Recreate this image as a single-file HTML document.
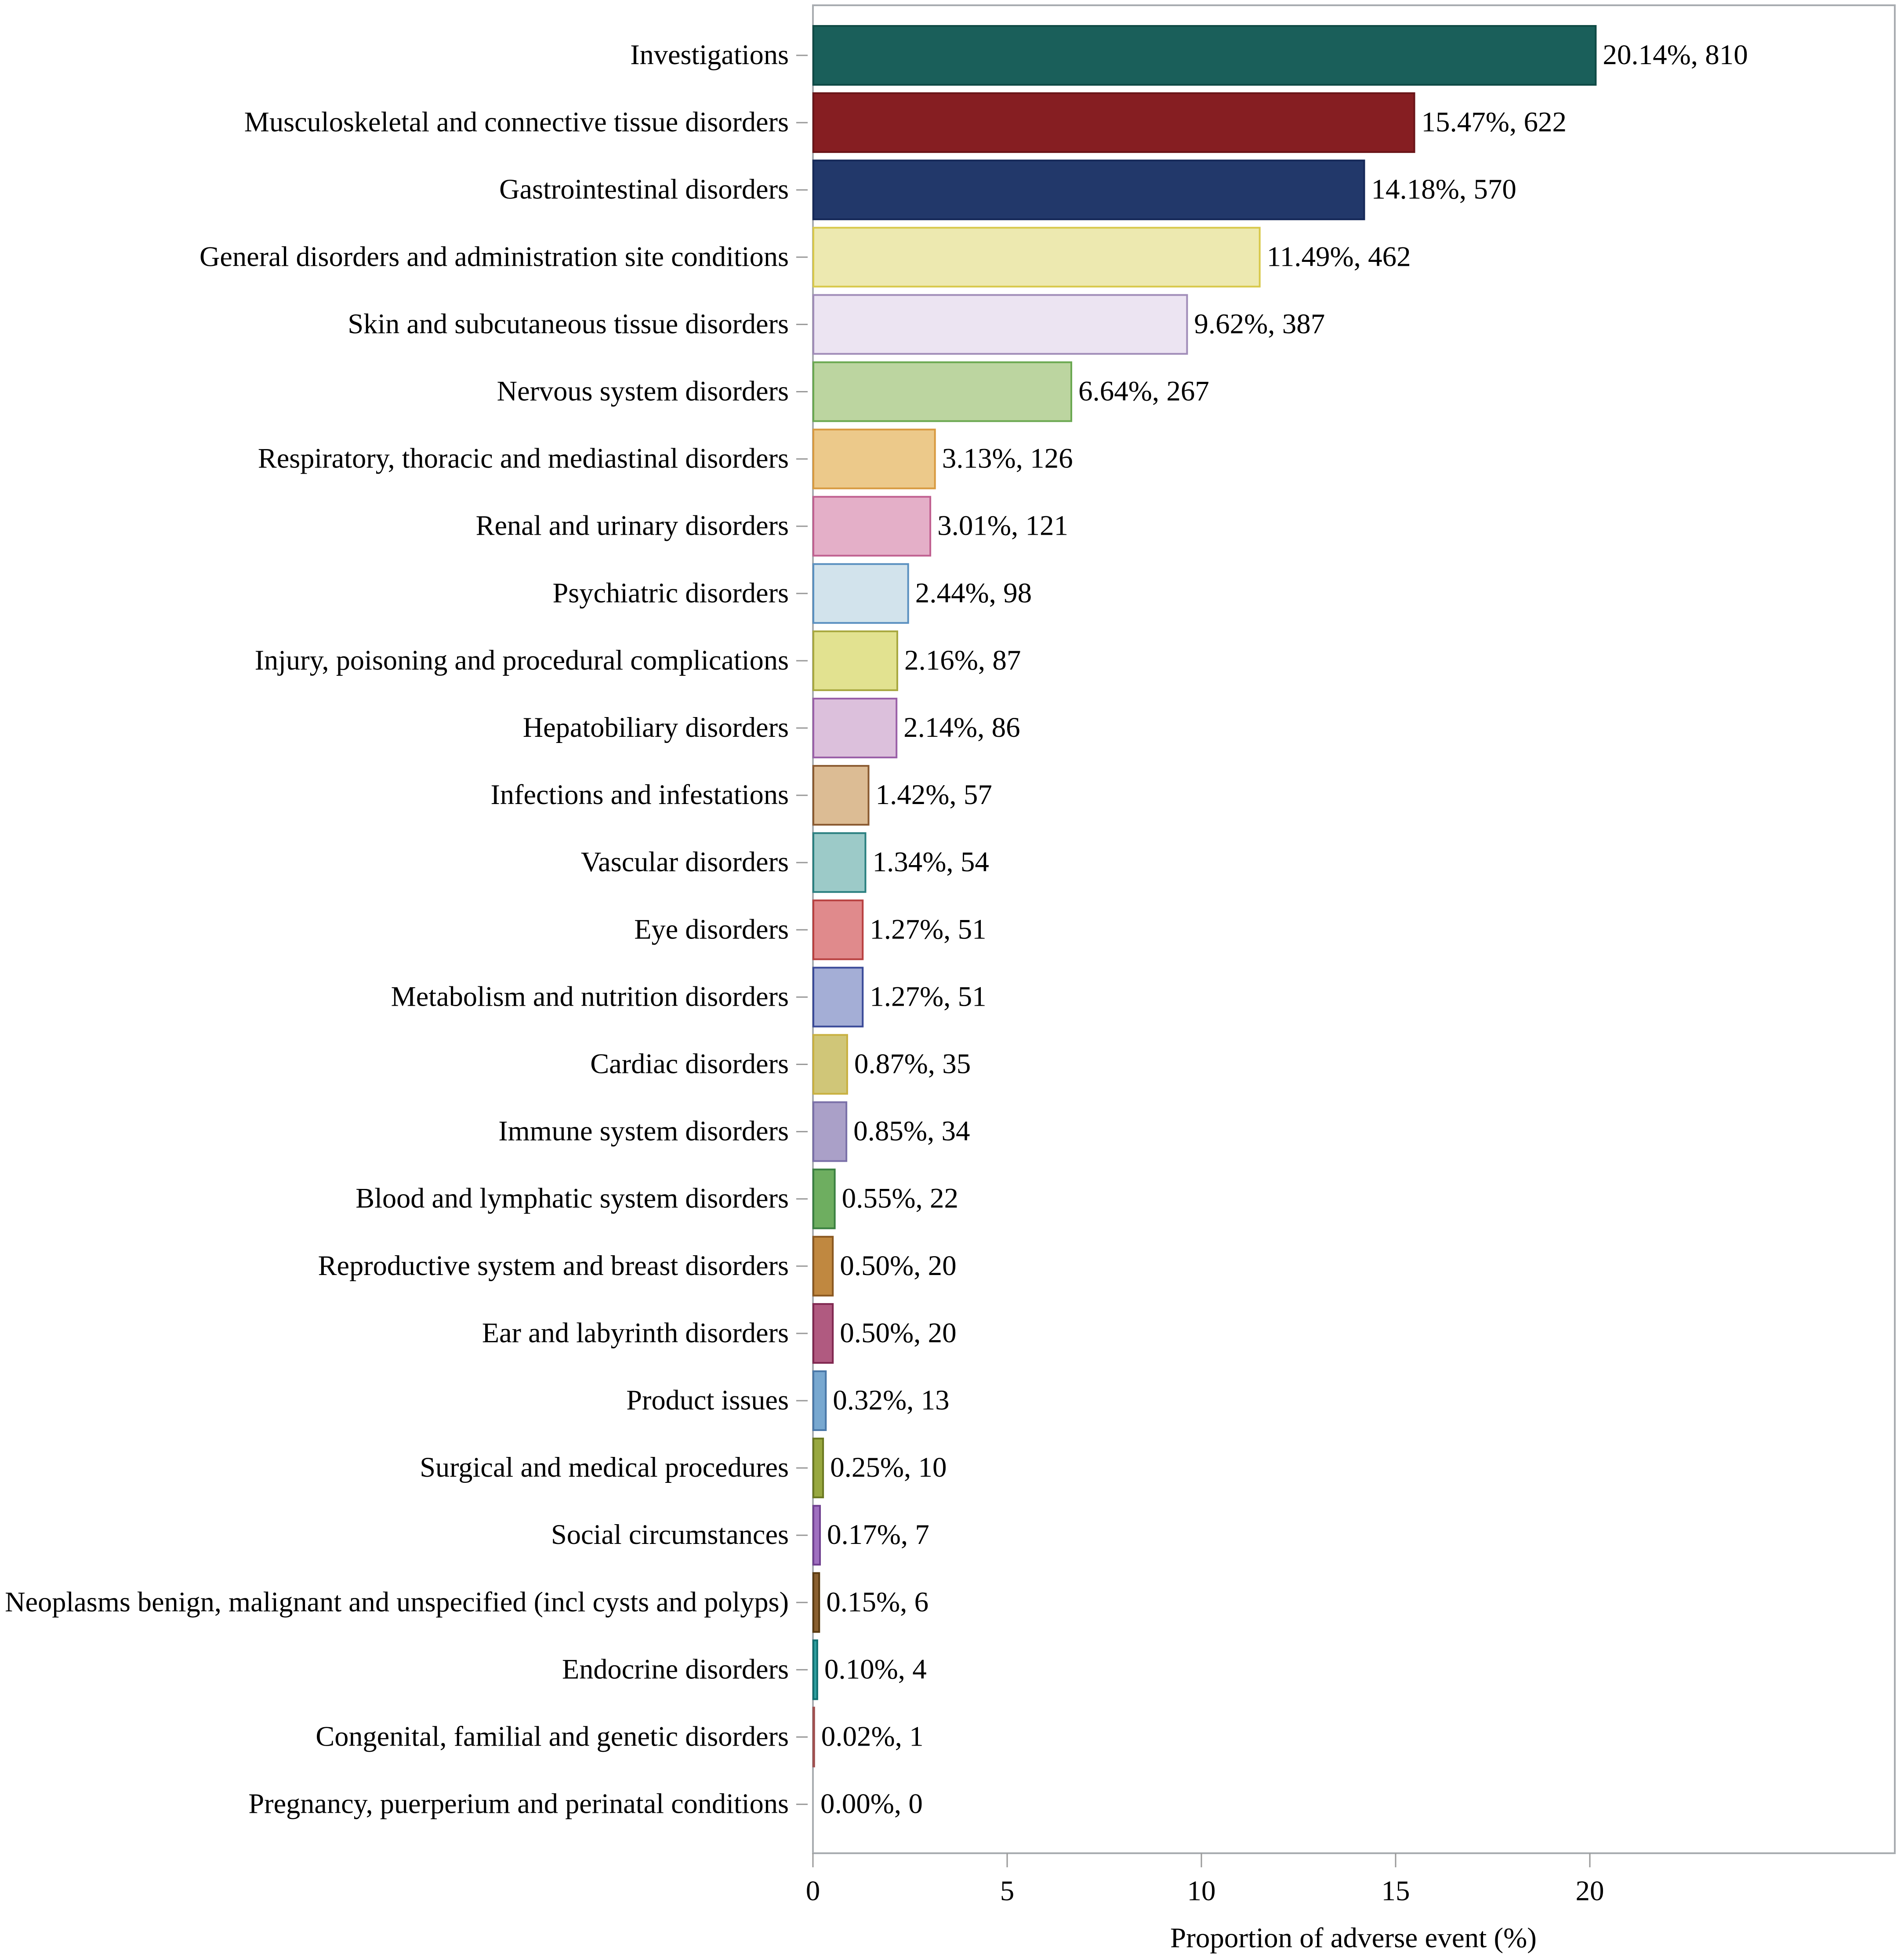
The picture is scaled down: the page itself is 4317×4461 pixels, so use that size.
<!DOCTYPE html>
<html><head><meta charset="utf-8"><style>
html,body{margin:0;padding:0;background:#fff;}
svg{display:block;font-family:"Liberation Serif",serif;}
</style></head><body>
<svg id="chart" width="4317" height="4461" viewBox="0 0 4317 4461" xmlns="http://www.w3.org/2000/svg">
<rect x="1850" y="12" width="2462" height="4206" fill="#fff" stroke="#a8acb0" stroke-width="4"/>
<g id="bars"></g><g id="ylabels"></g><g id="xaxis"></g>
<text x="3080" y="4432" font-size="65" text-anchor="middle">Proportion of adverse event (%)</text>
</svg>
<script>
const categories=["Investigations","Musculoskeletal and connective tissue disorders","Gastrointestinal disorders","General disorders and administration site conditions","Skin and subcutaneous tissue disorders","Nervous system disorders","Respiratory, thoracic and mediastinal disorders","Renal and urinary disorders","Psychiatric disorders","Injury, poisoning and procedural complications","Hepatobiliary disorders","Infections and infestations","Vascular disorders","Eye disorders","Metabolism and nutrition disorders","Cardiac disorders","Immune system disorders","Blood and lymphatic system disorders","Reproductive system and breast disorders","Ear and labyrinth disorders","Product issues","Surgical and medical procedures","Social circumstances","Neoplasms benign, malignant and unspecified (incl cysts and polyps)","Endocrine disorders","Congenital, familial and genetic disorders","Pregnancy, puerperium and perinatal conditions"];
const percents=[20.14,15.47,14.18,11.49,9.62,6.64,3.13,3.01,2.44,2.16,2.14,1.42,1.34,1.27,1.27,0.87,0.85,0.55,0.50,0.50,0.32,0.25,0.17,0.15,0.10,0.02,0.00];
const counts=[810,622,570,462,387,267,126,121,98,87,86,57,54,51,51,35,34,22,20,20,13,10,7,6,4,1,0];
const xTicks=[0,5,10,15,20];
const fills=["#1a5f5a","#861e22","#22386a","#ede9b0","#ece4f2","#bcd5a0","#ecc98a","#e4afc8","#d2e3ec","#e2e290","#dcc0dc","#dcbc94","#9ccac8","#e08a8c","#a4aed6","#d0c678","#aaa0c8","#6eae60","#c08840","#b05a80","#78a8d0","#98a840","#a070c0","#8a6030","#30a0a0","#d09090","#c0c0c0"];
const strokes=["#0f4a45","#6a1418","#152858","#d8c84a","#a08cb8","#6aa850","#d89a40","#c06090","#5a90c0","#a8a840","#9a60a8","#8a5a30","#2a8080","#b84040","#3a4a98","#c8b040","#7a70a8","#3a8040","#8a5820","#802850","#4a78a8","#6a7820","#704090","#5a3a10","#107070","#a05050","#909090"];
const NS="http://www.w3.org/2000/svg";
const x0=1850, pxPerUnit=88.4;
function xs(v){return x0+v*pxPerUnit;}
function yc(i){return 126+i*153.1;}
const barH=134;
const gb=document.getElementById('bars'),gl=document.getElementById('ylabels'),gx=document.getElementById('xaxis');
function mk(tag,attrs,parent){const e=document.createElementNS(NS,tag);for(const k in attrs)e.setAttribute(k,attrs[k]);parent.appendChild(e);return e;}
categories.forEach((c,i)=>{
  const w=xs(percents[i])-x0;
  const r=mk('rect',{x:x0+1,y:yc(i)-barH/2,width:Math.max(w,0),height:barH,fill:fills[i],stroke:strokes[i],'stroke-width':4},gb);
  
  
  const v=mk('text',{x:xs(percents[i])+17,y:yc(i)+20,'font-size':65},gb);
  v.textContent=percents[i].toFixed(2)+'%, '+counts[i];
  
  
  const t=mk('line',{x1:1812,x2:1838,y1:yc(i),y2:yc(i),stroke:'#999','stroke-width':3},gl);
  
  
  const l=mk('text',{x:1795,y:yc(i)+20,'font-size':64.3,'text-anchor':'end'},gl);
  l.textContent=c;
  
  
});
xTicks.forEach(v=>{
  const t=mk('line',{x1:xs(v),x2:xs(v),y1:4218,y2:4250,stroke:'#999','stroke-width':3},gx);
  
  
  const l=mk('text',{x:xs(v),y:4325,'font-size':65,'text-anchor':'middle'},gx);
  l.textContent=v;
  
  
});
</script>
</body></html>
